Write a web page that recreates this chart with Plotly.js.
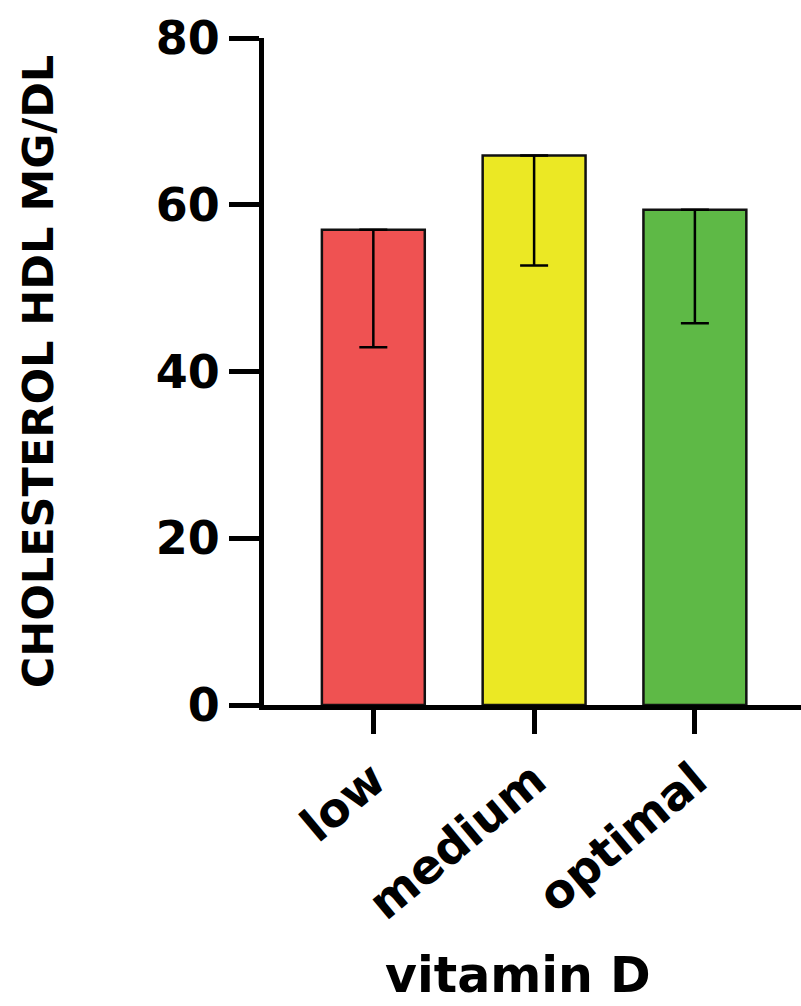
<!DOCTYPE html>
<html><head><meta charset="utf-8">
<script src="https://cdn.plot.ly/plotly-3.0.1.min.js"></script>
<style>html,body{margin:0;padding:0;background:#fff}</style>
</head><body><div id="chart" style="width:801px;height:1006px"></div>
<script>
const categories = ["low", "medium", "optimal"];
const meanHDL = [57.0, 65.9, 59.4];
const sdMinus = [14.1, 13.2, 13.6];
const sdPlus = [0, 0, 0];
const barColors = ["#EF5252", "#EBE824", "#5EB946"];
const yTicks = [0, 20, 40, 60, 80];

const font = "DejaVu Sans, Verdana, sans-serif";
const trace = {
  type: "bar",
  x: categories,
  y: meanHDL,
  marker: {color: barColors, line: {color: "#111", width: 2.5}},
  width: 0.64,
  error_y: {type: "data", symmetric: false, array: sdPlus, arrayminus: sdMinus,
            color: "#000", thickness: 2.5, width: 14}
};
const layout = {
  width: 801, height: 1006,
  margin: {l: 264, r: 0, t: 38, b: 301},
  paper_bgcolor: "#fff", plot_bgcolor: "#fff",
  showlegend: false,
  font: {family: font, color: "#000"},
  xaxis: {
    type: "category", range: [-0.68, 2.66],
    showline: true, linecolor: "#000", linewidth: 5,
    ticks: "outside", ticklen: 24, tickwidth: 5, tickcolor: "#000",
    tickangle: -40, tickfont: {size: 47, family: font, weight: "bold"},
    showgrid: false, zeroline: false
  },
  yaxis: {
    range: [0, 80], tickvals: yTicks,
    showline: true, linecolor: "#000", linewidth: 5,
    ticks: "outside", ticklen: 30, tickwidth: 5, tickcolor: "#000",
    tickfont: {size: 46, family: font, weight: "bold"},
    showgrid: false, zeroline: false,
    title: {text: "<b>CHOLESTEROL HDL MG/DL</b>", font: {size: 43, family: font}, standoff: 90}
  },
  annotations: [{
    text: "<b>vitamin D</b>", xref: "paper", yref: "paper",
    x: (518 - 264) / 537, y: -270 / 667, xanchor: "center", yanchor: "middle",
    showarrow: false, font: {size: 49, family: font, color: "#000"}
  }]
};
Plotly.newPlot("chart", [trace], layout, {displayModeBar: false, staticPlot: true});
</script></body></html>
